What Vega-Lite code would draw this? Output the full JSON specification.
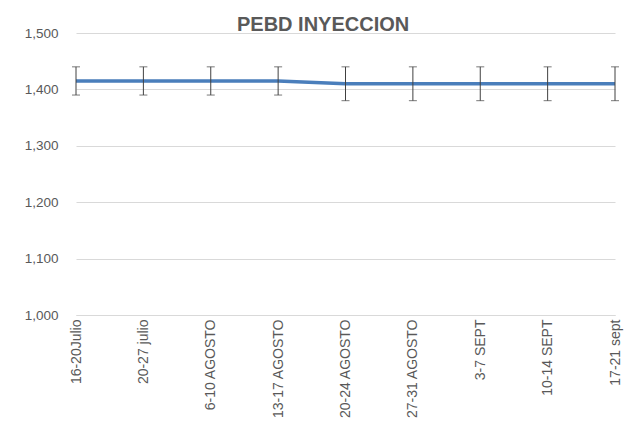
{
  "$schema": "https://vega.github.io/schema/vega-lite/v6.json",
  "width": 539,
  "height": 282,
  "padding": {"left": 24, "top": 15, "right": 16, "bottom": 5},
  "background": "white",
  "title": {
    "text": "PEBD INYECCION",
    "fontSize": 20,
    "fontWeight": "bold",
    "color": "#595959",
    "font": "Liberation Sans",
    "anchor": "middle",
    "frame": "bounds",
    "offset": -9
  },
  "data": {
    "values": [
      {"semana": "16-20Julio", "valor": 1415, "bajo": 1390, "alto": 1440},
      {"semana": "20-27 julio", "valor": 1415, "bajo": 1390, "alto": 1440},
      {"semana": "6-10 AGOSTO", "valor": 1415, "bajo": 1390, "alto": 1440},
      {"semana": "13-17 AGOSTO", "valor": 1415, "bajo": 1390, "alto": 1440},
      {"semana": "20-24 AGOSTO", "valor": 1410, "bajo": 1380, "alto": 1440},
      {"semana": "27-31 AGOSTO", "valor": 1410, "bajo": 1380, "alto": 1440},
      {"semana": "3-7 SEPT", "valor": 1410, "bajo": 1380, "alto": 1440},
      {"semana": "10-14 SEPT", "valor": 1410, "bajo": 1380, "alto": 1440},
      {"semana": "17-21 sept", "valor": 1410, "bajo": 1380, "alto": 1440}
    ]
  },
  "encoding": {
    "x": {
      "field": "semana",
      "type": "ordinal",
      "sort": null,
      "scale": {"type": "point", "padding": 0},
      "axis": {
        "title": null,
        "labelAngle": -90,
        "labelFontSize": 14,
        "labelColor": "#595959",
        "labelFont": "Liberation Sans",
        "labelPadding": 4,
        "ticks": false,
        "domainColor": "#d9d9d9",
        "grid": false
      }
    }
  },
  "layer": [
    {
      "mark": {"type": "line", "color": "#4a7ebb", "strokeWidth": 3.5},
      "encoding": {
        "y": {
          "field": "valor",
          "type": "quantitative",
          "scale": {"domain": [1000, 1500]},
          "axis": {
            "title": null,
            "values": [1000, 1100, 1200, 1300, 1400, 1500],
            "format": ",d",
            "labelFontSize": 13.5,
            "labelColor": "#595959",
            "labelFont": "Liberation Sans",
            "labelPadding": 18,
            "ticks": false,
            "domain": false,
            "gridColor": "#d9d9d9",
            "gridWidth": 1
          }
        }
      }
    },
    {
      "mark": {
        "type": "errorbar",
        "rule": {"color": "#404040", "strokeWidth": 1},
        "ticks": {"color": "#404040", "size": 8, "thickness": 1}
      },
      "encoding": {
        "y": {"field": "bajo", "type": "quantitative"},
        "y2": {"field": "alto"}
      }
    }
  ],
  "config": {"view": {"stroke": null}}
}
